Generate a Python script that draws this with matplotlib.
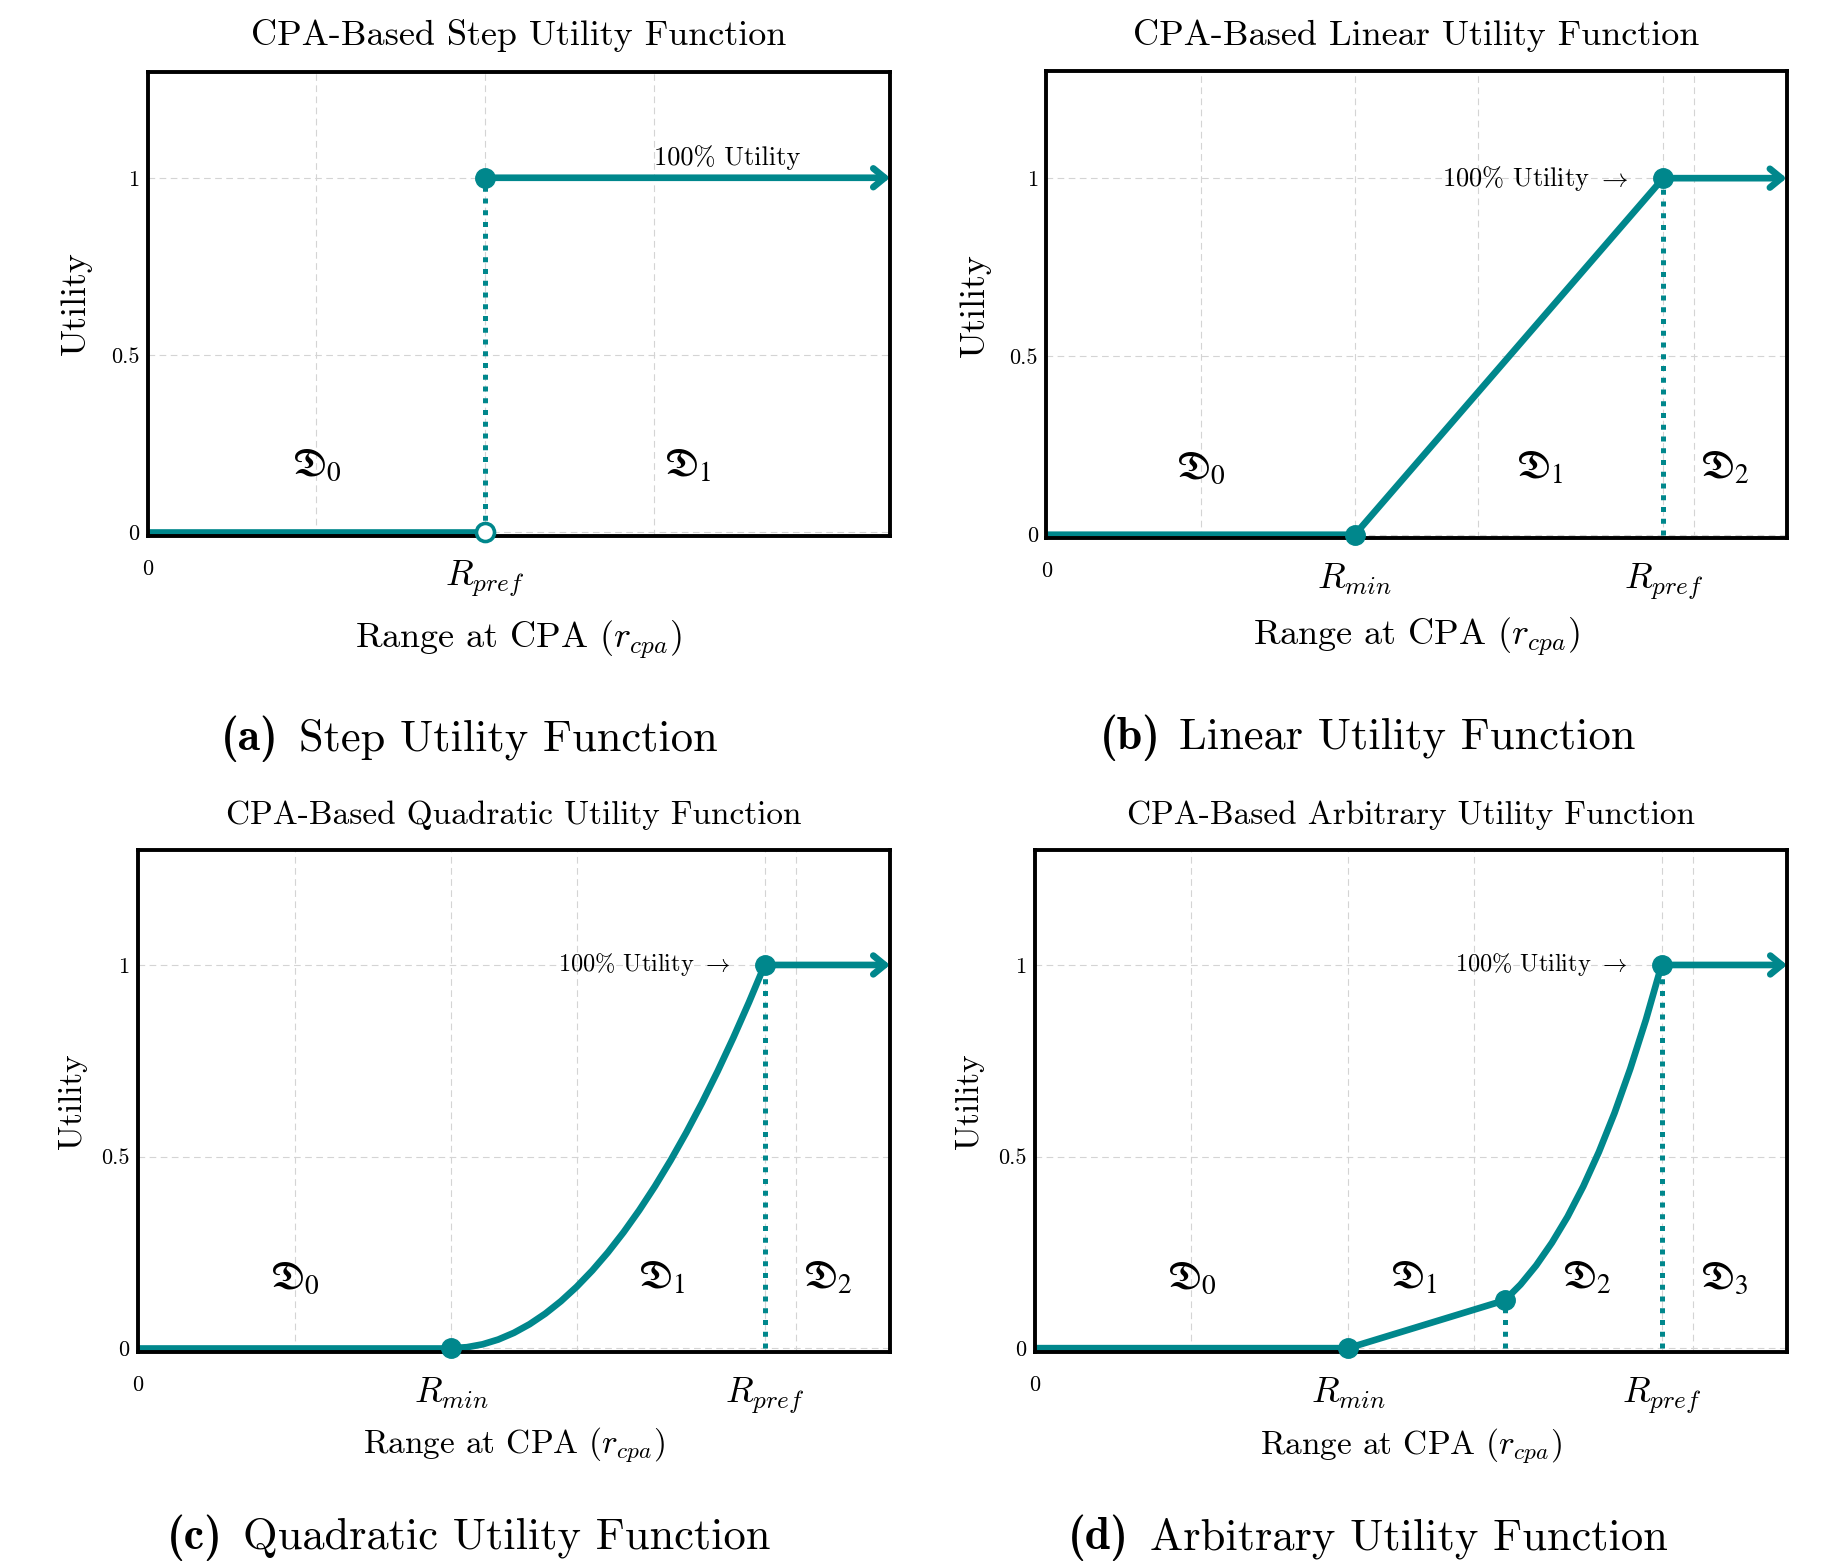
import matplotlib
matplotlib.use("Agg")
import matplotlib.pyplot as plt

plt.rcParams['font.family'] = 'serif'
plt.rcParams['font.serif'] = ['cmr10']
plt.rcParams['mathtext.fontset'] = 'cm'
plt.rcParams['axes.formatter.use_mathtext'] = True
plt.rcParams['axes.unicode_minus'] = False

# ---------------- data ----------------
R_MIN = 5.0
R_PREF = 10.0
X_MAX_STEP = 22.0
X_MAX = 12.0
Y_MAX = 1.3
Y_MIN = -0.01

Y_TICKS = [0, 0.5, 1]
Y_TICK_LABELS = ['0', '0.5', '1']

# (a) step
A_LOW_X = [0.0, 10.0]
A_LOW_Y = [0.0, 0.0]
A_HIGH_X = [10.0, 22.0]
A_HIGH_Y = [1.0, 1.0]
A_XTICKS = [0.0, 10.0]
A_XTICK_LABELS = ['0', r'$R_{pref}$']
A_GRID_X = [5.0, 15.0]
A_REGION_LABELS = [r'$\mathfrak{D}_0$', r'$\mathfrak{D}_1$']
A_REGION_X = [5.0, 16.0]

# (b) linear
B_X = [0.0, 5.0, 10.0]
B_Y = [0.0, 0.0, 1.0]
B_REGION_LABELS = [r'$\mathfrak{D}_0$', r'$\mathfrak{D}_1$', r'$\mathfrak{D}_2$']
B_REGION_X = [2.5, 8.0, 11.0]

# (c) quadratic
C_ZERO_X = [0.0, 5.0]
C_ZERO_Y = [0.0, 0.0]
C_CURVE_X = [5.0, 5.25, 5.5, 5.75, 6.0, 6.25, 6.5, 6.75, 7.0, 7.25, 7.5,
             7.75, 8.0, 8.25, 8.5, 8.75, 9.0, 9.25, 9.5, 9.75, 10.0]
C_CURVE_Y = [0.0, 0.0025, 0.01, 0.0225, 0.04, 0.0625, 0.09, 0.1225, 0.16, 0.2025, 0.25,
             0.3025, 0.36, 0.4225, 0.49, 0.5625, 0.64, 0.7225, 0.81, 0.9025, 1.0]
C_REGION_LABELS = [r'$\mathfrak{D}_0$', r'$\mathfrak{D}_1$', r'$\mathfrak{D}_2$']
C_REGION_X = [2.5, 8.35, 11.0]

# (d) arbitrary
D_LIN_X = [0.0, 5.0, 7.5]
D_LIN_Y = [0.0, 0.0, 0.125]
D_CURVE_X = [7.5, 7.75, 8.0, 8.25, 8.5, 8.75, 9.0, 9.25, 9.5, 9.75, 10.0]
D_CURVE_Y = [0.125, 0.166, 0.216, 0.275, 0.343, 0.422, 0.512, 0.614, 0.729, 0.857, 1.0]
D_MID = (7.5, 0.125)
D_REGION_LABELS = [r'$\mathfrak{D}_0$', r'$\mathfrak{D}_1$', r'$\mathfrak{D}_2$', r'$\mathfrak{D}_3$']
D_REGION_X = [2.5, 6.05, 8.8, 11.0]

BCD_XTICKS = [0.0, 5.0, 10.0]
BCD_XTICK_LABELS = ['0', r'$R_{min}$', r'$R_{pref}$']
BCD_GRID_X = [2.5, 7.0, 10.5]

TITLES = ['CPA-Based Step Utility Function', 'CPA-Based Linear Utility Function',
          'CPA-Based Quadratic Utility Function', 'CPA-Based Arbitrary Utility Function']
CAPTION_TAGS = ['(a)', '(b)', '(c)', '(d)']
CAPTION_TEXTS = ['Step Utility Function', 'Linear Utility Function',
                 'Quadratic Utility Function', 'Arbitrary Utility Function']
XLABEL = r'Range at CPA ($r_{cpa}$)'
YLABEL = 'Utility'
UTIL_TEXT = '100% Utility'
UTIL_TEXT_ARROW = r'100% Utility $\rightarrow$'

# ---------------- style ----------------
TEAL = '#00878c'
LW = 4.8
DLW = 3.6
MS = 14
DOT = (0, (1, 1.35))

fig = plt.figure(figsize=(18.31, 15.68), dpi=100)
W, H = 1831.0, 1568.0


def make_ax(left, top, right, bottom):
    return fig.add_axes([left / W, 1 - bottom / H, (right - left) / W, (bottom - top) / H])


axA = make_ax(147.7, 71.5, 890.0, 535.5)
axB = make_ax(1046.3, 71.2, 1786.6, 538.3)
axC = make_ax(137.8, 850.0, 890.0, 1352.0)
axD = make_ax(1034.6, 850.0, 1787.0, 1352.0)


def base(ax, xmax, xticks, xlabels, gridx, title, ylab_x, xlab_y, fs):
    ax.set_xlim(0, xmax)
    ax.set_ylim(Y_MIN, Y_MAX)
    ax.set_xticks(xticks)
    ax.set_xticklabels(xlabels)
    ax.set_xticks(gridx, minor=True)
    ax.set_yticks(Y_TICKS)
    ax.set_yticklabels(Y_TICK_LABELS)
    ax.tick_params(axis='both', which='both', length=0)
    ax.tick_params(axis='x', pad=17)
    ax.tick_params(axis='y', pad=6, labelsize=16)
    for i, lbl in enumerate(ax.get_xticklabels()):
        lbl.set_fontsize(16 if i == 0 else 26)
    ax.grid(True, which='both', color='#d4d4d4', linestyle=(0, (6, 4)), lw=0.8)
    for s in ax.spines.values():
        s.set_linewidth(2.8)
        s.set_color('black')
    ax.set_title(title, fontsize=fs, pad=19)
    ax.set_xlabel(XLABEL, fontsize=fs)
    ax.set_ylabel(YLABEL, fontsize=fs)
    ax.xaxis.label.set_va('center')
    ax.yaxis.label.set_va('center')
    ax.xaxis.set_label_coords(0.5, xlab_y)
    ax.yaxis.set_label_coords(ylab_x, 0.5)


def arrow(ax, x0, x1):
    ax.annotate('', xy=(x1, 1.0), xytext=(x0, 1.0),
                arrowprops=dict(arrowstyle='->,head_length=0.55,head_width=0.45', lw=LW,
                                color=TEAL, shrinkA=0, shrinkB=0, mutation_scale=15),
                annotation_clip=False, zorder=4)


def dotted(ax, x, y1):
    ax.plot([x, x], [0, y1], color=TEAL, lw=DLW, linestyle=DOT, dash_capstyle='butt', zorder=3)


def regions(ax, labels, xs, y):
    for lab, x in zip(labels, xs):
        ax.text(x, y, lab, fontsize=28, ha='center', va='center', math_fontfamily='stix')


# ---- (a)
base(axA, X_MAX_STEP, A_XTICKS, A_XTICK_LABELS, A_GRID_X, TITLES[0], -0.097, -0.225, 26)
axA.plot(A_LOW_X, A_LOW_Y, color=TEAL, lw=LW, zorder=2, solid_capstyle='butt')
arrow(axA, A_HIGH_X[0], A_HIGH_X[1])
dotted(axA, R_PREF, 1.0)
axA.plot([A_HIGH_X[0]], [A_HIGH_Y[0]], 'o', color=TEAL, ms=MS, zorder=5, clip_on=False)
axA.plot([A_LOW_X[1]], [A_LOW_Y[1]], 'o', mfc='white', mec=TEAL, mew=2.6, ms=MS - 1, zorder=5, clip_on=False)
axA.text(15.0, 1.035, UTIL_TEXT, fontsize=19, ha='left', va='baseline')
regions(axA, A_REGION_LABELS, A_REGION_X, 0.185)

# ---- (b)
base(axB, X_MAX, BCD_XTICKS, BCD_XTICK_LABELS, BCD_GRID_X, TITLES[1], -0.096, -0.212, 26)
axB.plot(B_X, B_Y, color=TEAL, lw=LW, zorder=2, solid_capstyle='butt')
arrow(axB, R_PREF, X_MAX)
dotted(axB, R_PREF, 1.0)
axB.plot([B_X[1], B_X[2]], [B_Y[1], B_Y[2]], 'o', color=TEAL, ms=MS, zorder=5, clip_on=False)
axB.text(9.45, 1.0, UTIL_TEXT_ARROW, fontsize=19, ha='right', va='center')
regions(axB, B_REGION_LABELS, B_REGION_X, 0.185)

# ---- (c)
base(axC, X_MAX, BCD_XTICKS, BCD_XTICK_LABELS, BCD_GRID_X, TITLES[2], -0.087, -0.184, 24)
axC.plot(C_ZERO_X, C_ZERO_Y, color=TEAL, lw=LW, zorder=2, solid_capstyle='butt')
axC.plot(C_CURVE_X, C_CURVE_Y, color=TEAL, lw=LW, zorder=2)
arrow(axC, R_PREF, X_MAX)
dotted(axC, R_PREF, 1.0)
axC.plot([C_CURVE_X[0], C_CURVE_X[-1]], [C_CURVE_Y[0], C_CURVE_Y[-1]], 'o', color=TEAL, ms=MS,
         zorder=5, clip_on=False)
axC.text(9.45, 1.0, UTIL_TEXT_ARROW, fontsize=17.5, ha='right', va='center')
regions(axC, C_REGION_LABELS, C_REGION_X, 0.18)

# ---- (d)
base(axD, X_MAX, BCD_XTICKS, BCD_XTICK_LABELS, BCD_GRID_X, TITLES[3], -0.087, -0.186, 24)
axD.plot(D_LIN_X, D_LIN_Y, color=TEAL, lw=LW, zorder=2, solid_capstyle='butt')
axD.plot(D_CURVE_X, D_CURVE_Y, color=TEAL, lw=LW, zorder=2)
arrow(axD, R_PREF, X_MAX)
dotted(axD, R_PREF, 1.0)
dotted(axD, D_MID[0], D_MID[1])
axD.plot([D_LIN_X[1], D_MID[0], D_CURVE_X[-1]], [D_LIN_Y[1], D_MID[1], D_CURVE_Y[-1]], 'o', color=TEAL,
         ms=MS, zorder=5, clip_on=False)
axD.text(9.45, 1.0, UTIL_TEXT_ARROW, fontsize=17.5, ha='right', va='center')
regions(axD, D_REGION_LABELS, D_REGION_X, 0.18)

# ---- captions: bold tag + regular text
CAP_POS = [(279.0, 299.0, 739.0), (1161.0, 1179.0, 738.0),
           (223.0, 243.0, 1538.0), (1129.0, 1150.0, 1538.0)]
for tag, txt, (xt, xs, yc) in zip(CAPTION_TAGS, CAPTION_TEXTS, CAP_POS):
    fig.text(xt / W, 1 - yc / H, tag, fontsize=33, ha='right', va='center', family='cmb10')
    fig.text(xs / W, 1 - yc / H, txt, fontsize=32, ha='left', va='center')

fig.savefig('out.png', dpi=100)
